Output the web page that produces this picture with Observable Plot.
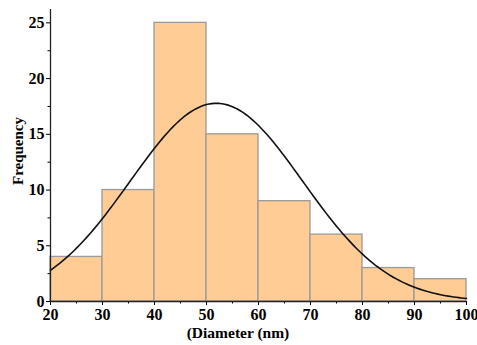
<!DOCTYPE html>
<html>
<head>
<meta charset="utf-8">
<script src="https://cdn.jsdelivr.net/npm/d3@7"></script>
<script src="https://cdn.jsdelivr.net/npm/@observablehq/plot@0.6"></script>
<style>
  html, body { margin: 0; padding: 0; background: #fff; }
  #chart svg { display: block; }
</style>
</head>
<body>
<div id="chart"></div>
<script>
// Histogram bins (nm) and counts
const binStarts = [20, 30, 40, 50, 60, 70, 80, 90];
const binWidth = 10;
const counts = [4, 10, 25, 15, 9, 6, 3, 2];
// Normal fit parameters
const fitMean = 51.9;
const fitSd = 16.6;
const xTicks = [20, 30, 40, 50, 60, 70, 80, 90, 100];
const yTicks = [0, 5, 10, 15, 20, 25];
const minorX = [25, 35, 45, 55, 65, 75, 85, 95];
const minorY = [2.5, 7.5, 12.5, 17.5, 22.5];

const bins = binStarts.map((x0, i) => ({x1: x0, x2: x0 + binWidth, count: counts[i]}));
const total = d3.sum(counts);
const curve = d3.range(20, 100.01, 0.5).map(x => ({
  x,
  y: total * binWidth / (fitSd * Math.sqrt(2 * Math.PI)) * Math.exp(-0.5 * ((x - fitMean) / fitSd) ** 2)
}));

const font = "'Liberation Serif', 'Times New Roman', serif";
const plot = Plot.plot({
  width: 477,
  height: 345,
  marginLeft: 50,
  marginRight: 11,
  marginTop: 9,
  marginBottom: 44,
  style: {fontFamily: font, fontSize: "16px", fontWeight: "bold", color: "#000", background: "#fff"},
  x: {type: "linear", domain: [20, 100], label: null},
  y: {type: "linear", domain: [0, 26.2], label: null},
  marks: [
    Plot.rectY(bins, {x1: "x1", x2: "x2", y: "count", fill: "#FFCC96", stroke: "#9a9a9a", strokeWidth: 1.3}),
    Plot.line(curve, {x: "x", y: "y", stroke: "#111", strokeWidth: 1.6}),
    Plot.axisX({ticks: xTicks, tickSize: 4, tickPadding: 3, fontSize: 16, fontWeight: "bold", label: null}),
    Plot.axisY({ticks: yTicks, tickSize: 4, tickPadding: 2, fontSize: 16, fontWeight: "bold", label: null}),
    Plot.axisX({ticks: minorX, tickSize: 2.5, tickFormat: () => "", label: null}),
    Plot.axisY({ticks: minorY, tickSize: 2.5, tickFormat: () => "", label: null}),
    Plot.ruleY([0], {stroke: "#222", strokeWidth: 1.3}),
    Plot.ruleX([20], {stroke: "#222", strokeWidth: 1.3})
  ]
});
document.getElementById("chart").appendChild(plot);

// axis titles as real text within the SVG
const svg = d3.select(plot);
svg.append("text")
  .attr("x", 238).attr("y", 338)
  .attr("text-anchor", "middle")
  .style("font-family", font).style("font-size", "15.5px").style("font-weight", "bold")
  .text("(Diameter (nm)");
svg.append("text")
  .attr("transform", "translate(23,151) rotate(-90)")
  .attr("text-anchor", "middle")
  .style("font-family", font).style("font-size", "15px").style("font-weight", "bold")
  .text("Frequency");
</script>
</body>
</html>
